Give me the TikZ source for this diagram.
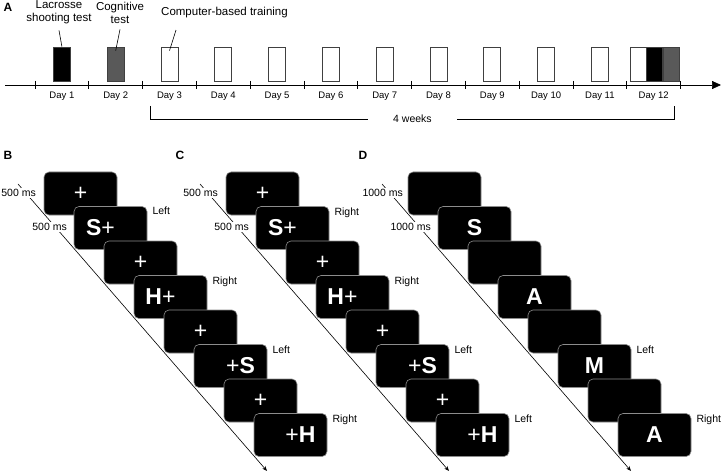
\documentclass[tikz,border=0pt]{standalone}
\usepackage{fontspec}
\setmainfont{Liberation Sans}
\usetikzlibrary{arrows.meta,positioning}
\newcommand{\stimsize}{\fontsize{23}{25}\selectfont}
\newcommand{\notesize}{\fontsize{11.5}{13}\selectfont}
\newcommand{\daysize}{\fontsize{9.5}{11}\selectfont}
\newcommand{\respsize}{\fontsize{10.5}{12}\selectfont}
\newcommand{\panelsize}{\fontsize{12}{14}\selectfont}
\tikzset{
  daybox/.style={
    rectangle,
    draw=black!75,
    line width=0.8pt,
    fill=white,
    minimum width=17pt,
    minimum height=34pt,
    inner sep=0pt
  },
  screen/.style={
    rectangle,
    rounded corners=5pt,
    draw=black!45,
    line width=0.6pt,
    fill=black,
    minimum width=73pt,
    minimum height=43pt,
    inner sep=0pt
  },
  stim/.style={
    text=white,
    font=\stimsize,
    inner sep=0pt
  },
  note/.style={
    align=center,
    font=\notesize,
    inner sep=0pt
  },
  daylabel/.style={
    font=\daysize,
    inner sep=0pt
  },
  mslabel/.style={
    fill=white,
    font=\respsize,
    inner sep=1pt
  },
  resp/.style={
    font=\respsize,
    inner sep=1pt
  },
  panel/.style={
    font=\bfseries\panelsize,
    inner sep=0pt
  },
  lead/.style={
    line width=0.6pt,
    draw=black
  },
  timearrow/.style={
    -{Stealth[length=5pt,width=4pt]},
    line width=0.6pt
  }
}

\begin{document}
\begin{tikzpicture}[x=1pt,y=-1pt]
  \useasboundingbox (0,0) rectangle (725,473);

  % A: schedule
  \node[panel] (pa) at (8,7) {A};
  \coordinate (axisstart) at (5,85);
  \coordinate (axisend) at (721,85);
  \draw[line width=0.7pt,-{Triangle[length=9pt,width=8pt]}] (axisstart) -- (axisend);
  \foreach \k in {0,...,12}
    \draw[line width=0.7pt] ({35+53.8*\k},81) -- ({35+53.8*\k},89);
  \foreach \d in {1,...,12}
    \node[daylabel] (day\d) at ({35+53.8*(\d-0.5)},96) {Day \d};

  \node[daybox, fill=black] (shoot) at (61.9,64) {};
  \node[daybox, fill=black!65] (cog) at (115.7,64) {};
  \foreach \d in {3,...,11}
    \node[daybox] (train\d) at ({35+53.8*(\d-0.5)},64) {};
  \node[daybox, minimum width=16pt] (train12) at (638,64) {};
  \node[daybox, minimum width=16pt, fill=black, right=0pt of train12] (shoot12) {};
  \node[daybox, minimum width=16pt, fill=black!65, right=0pt of shoot12] (cog12) {};

  \node[note] (lacrosse) at (59,12.5) {Lacrosse\\shooting test};
  \node[note] (cognitive) at (120,12.5) {Cognitive\\test};
  \node[note] (computer) at (224.5,13) {Computer-based training};
  \draw[lead] ([yshift=-6pt]lacrosse.south) -- (shoot.north);
  \draw[lead] ([yshift=-6pt]cognitive.south) -- ([yshift=-4pt]cog.north);
  \draw[lead] ([shift={(15pt,-11.5pt)}]computer.south west) -- ([yshift=-4pt]train3.north);

  \coordinate (weeksl) at (150,106);
  \coordinate (weeksr) at (674,106);
  \draw[line width=0.7pt] (weeksl) -- ++(0,13) -| (weeksr);
  \node[fill=white, font=\respsize, minimum width=89pt, inner sep=1pt] (weeks) at (412.5,119) {4 weeks};

  % B and C: letter tasks
  \node[panel] (pb) at (8,155) {B};
  \node[panel] (pc) at (180,155) {C};
  \foreach \pn/\ox in {b/0,c/182} {
    \coordinate (\pn-start) at ({18+\ox},184);
    \coordinate (\pn-end) at ({267+\ox},471);
    \draw[timearrow] (\pn-start) -- (\pn-end);
    \node[mslabel, anchor=east] (\pn-t1) at ({37+\ox},193) {500 ms};
    \node[mslabel, anchor=east] (\pn-t2) at ({68+\ox},227) {500 ms};
    \foreach \i/\txt/\dx in {1/+/0,2/\textbf{S}+/-10,3/+/0,4/\textbf{H}+/-10,
                             5/+/0,6/+\textbf{S}/10,7/+/0,8/+\textbf{H}/10} {
      \node[screen] (\pn\i) at ({80.5+\ox+30*(\i-1)},{193.5+34.5*(\i-1)}) {};
      \node[stim] (\pn\i-txt) at ([xshift=\dx pt]\pn\i.center) {\txt};
    }
  }
  \foreach \i/\r in {2/Left,4/Right,6/Left,8/Right}
    \node[resp, below right=0pt and 4pt of b\i.north east] (b\i-resp) {\r};
  \foreach \i/\r in {2/Right,4/Right,6/Left,8/Left}
    \node[resp, below right=0pt and 4pt of c\i.north east] (c\i-resp) {\r};

  % D: memory task
  \node[panel] (pd) at (363,155) {D};
  \coordinate (d-start) at (382,184);
  \coordinate (d-end) at (631,471);
  \draw[timearrow] (d-start) -- (d-end);
  \node[mslabel, anchor=east] (d-t1) at (404,193) {1000 ms};
  \node[mslabel, anchor=east] (d-t2) at (432,227) {1000 ms};
  \foreach \i/\txt in {1/,2/S,3/,4/A,5/,6/M,7/,8/A} {
    \node[screen] (d\i) at ({444.5+30*(\i-1)},{193.5+34.5*(\i-1)}) {};
    \node[stim, font=\stimsize\bfseries] (d\i-txt) at (d\i.center) {\txt};
  }
  \node[resp, below right=0pt and 4pt of d6.north east] (d6-resp) {Left};
  \node[resp, below right=0pt and 4pt of d8.north east] (d8-resp) {Right};
\end{tikzpicture}
\end{document}
